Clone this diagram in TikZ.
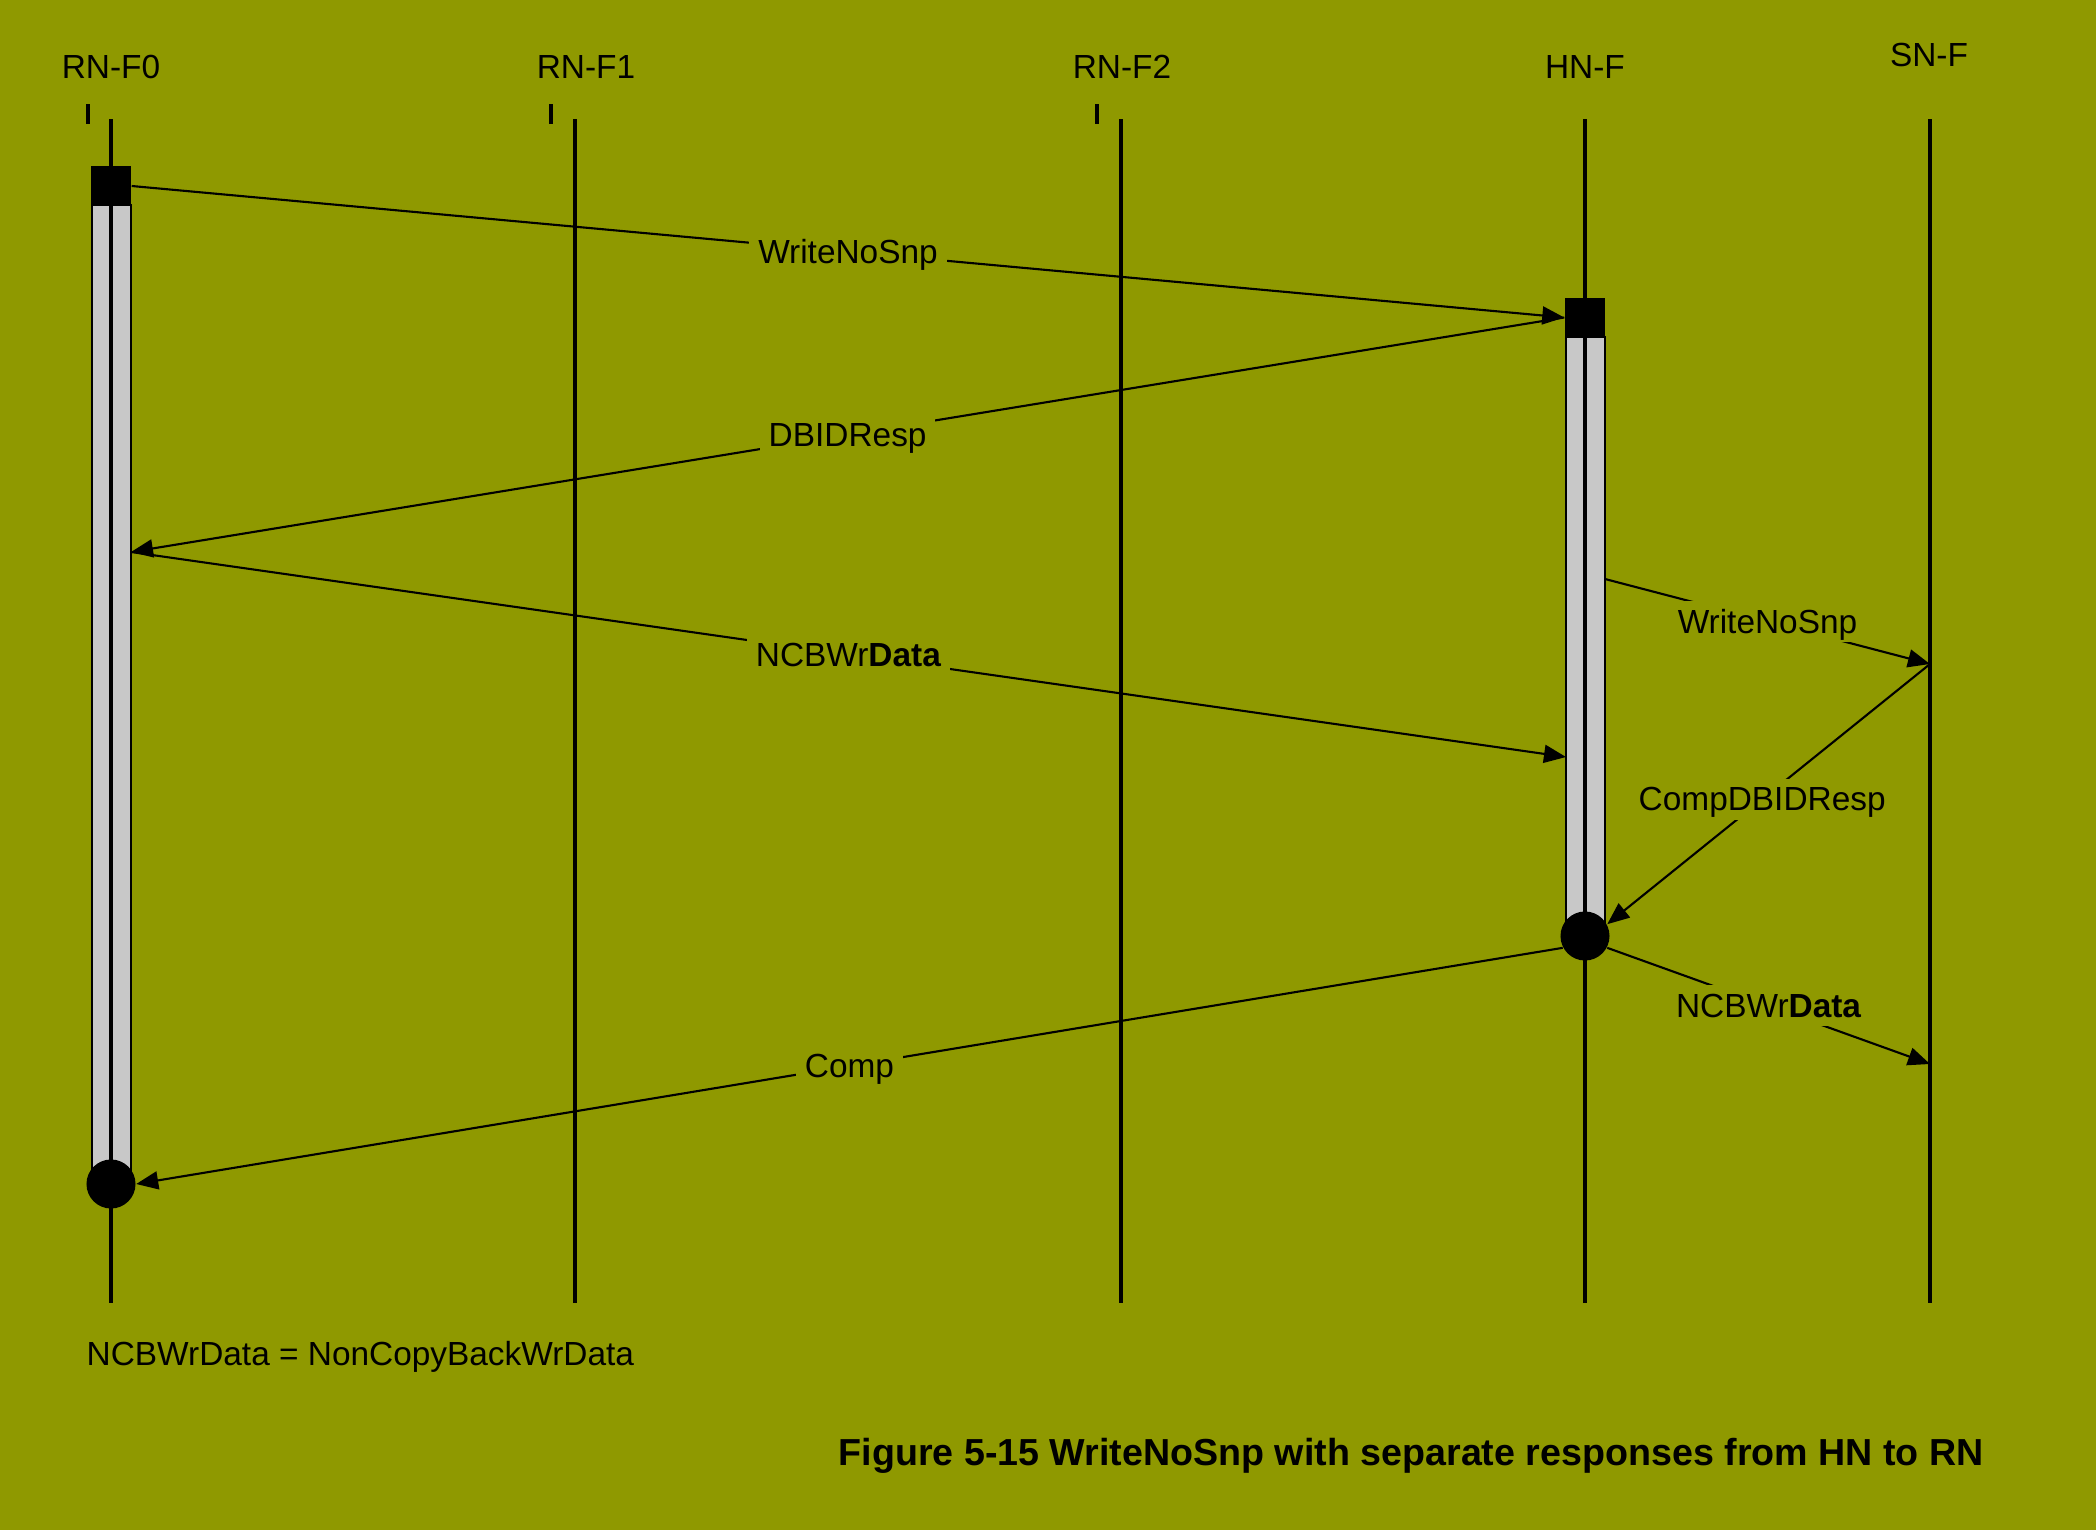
\documentclass[tikz,border=0pt]{standalone}
\usepackage{fontspec}
\setmainfont{Liberation Sans}
\usetikzlibrary{arrows.meta}
\definecolor{bgolive}{RGB}{143,153,0}
\definecolor{bargray}{RGB}{200,200,200}
\begin{document}
\begin{tikzpicture}[
x=0.01cm, y=-0.01cm,
every node/.style={font=\fontsize{9.5}{11}\selectfont},
head/.style={inner sep=0pt},
life/.style={line width=1.3pt},
tickmark/.style={line width=1.1pt},
actbar/.style={draw, line width=0.55pt, fill=bargray},
sqbox/.style={fill=black, inner sep=0pt, minimum width=0.40cm, minimum height=0.39cm},
endcirc/.style={circle, fill=black, inner sep=0pt, minimum size=0.49cm},
msg/.style={-{Triangle[length=0.22cm,width=0.18cm]}, line width=0.6pt},
lbl/.style={midway, fill=bgolive, inner sep=2.5pt, text depth=0pt}
]
\fill[bgolive] (0,0) rectangle (2096,1530);
\node[head] (rn0) at (111,67) {RN-F0};
\node[head] (rn1) at (586,67) {RN-F1};
\node[head] (rn2) at (1122,67) {RN-F2};
\node[head] (hn) at (1585,67) {HN-F};
\node[head] (sn) at (1929,55) {SN-F};
\draw[tickmark] (88,104) -- (88,124);
\draw[tickmark] (551,104) -- (551,124);
\draw[tickmark] (1097,104) -- (1097,124);
\draw[actbar] (92,205) rectangle (131,1184);
\draw[actbar] (1566,337) rectangle (1605,936);
\foreach \n/\x in {0/111,1/575,2/1121,3/1585,4/1930} {
\coordinate (top\n) at (\x,119);
\coordinate (bot\n) at (\x,1303);
\draw[life] (top\n) -- (bot\n);
}
\node[sqbox] (sq0) at (111,186) {};
\node[sqbox] (sq1) at (1585,317.5) {};
\node[endcirc] (c0) at (111,1184) {};
\node[endcirc] (c1) at (1585,936) {};
\coordinate (rcv0) at (131,552);
\coordinate (rcv1) at (1566,757);
\coordinate (snd1) at (1605,579);
\coordinate (sn1) at (1930,664);
\coordinate (sn2) at (1930,1064);
\draw[msg] (sq0.east) -- (sq1.west) node[lbl] {WriteNoSnp};
\draw[msg] (sq1.west) -- (rcv0) node[lbl] {DBIDResp};
\draw[msg] (rcv0) -- (rcv1) node[lbl] {NCBWr\textbf{Data}};
\draw[msg] (snd1) -- (sn1) node[lbl] {WriteNoSnp};
\draw[msg] (sn1) -- (c1.28) node[lbl, pos=0.52] {CompDBIDResp};
\draw[msg] (c1.-28) -- (sn2) node[lbl] {NCBWr\textbf{Data}};
\draw[msg] (c1.208) -- (c0.east) node[lbl] {Comp};
\node[anchor=west, inner sep=0pt] (note) at (86,1357) {NCBWrData = NonCopyBackWrData};
\node[anchor=west, inner sep=0pt, font=\fontsize{10.7}{13}\selectfont\bfseries] (caption) at (838,1456)
{Figure 5-15 WriteNoSnp with separate responses from HN to RN};
\end{tikzpicture}
\end{document}
